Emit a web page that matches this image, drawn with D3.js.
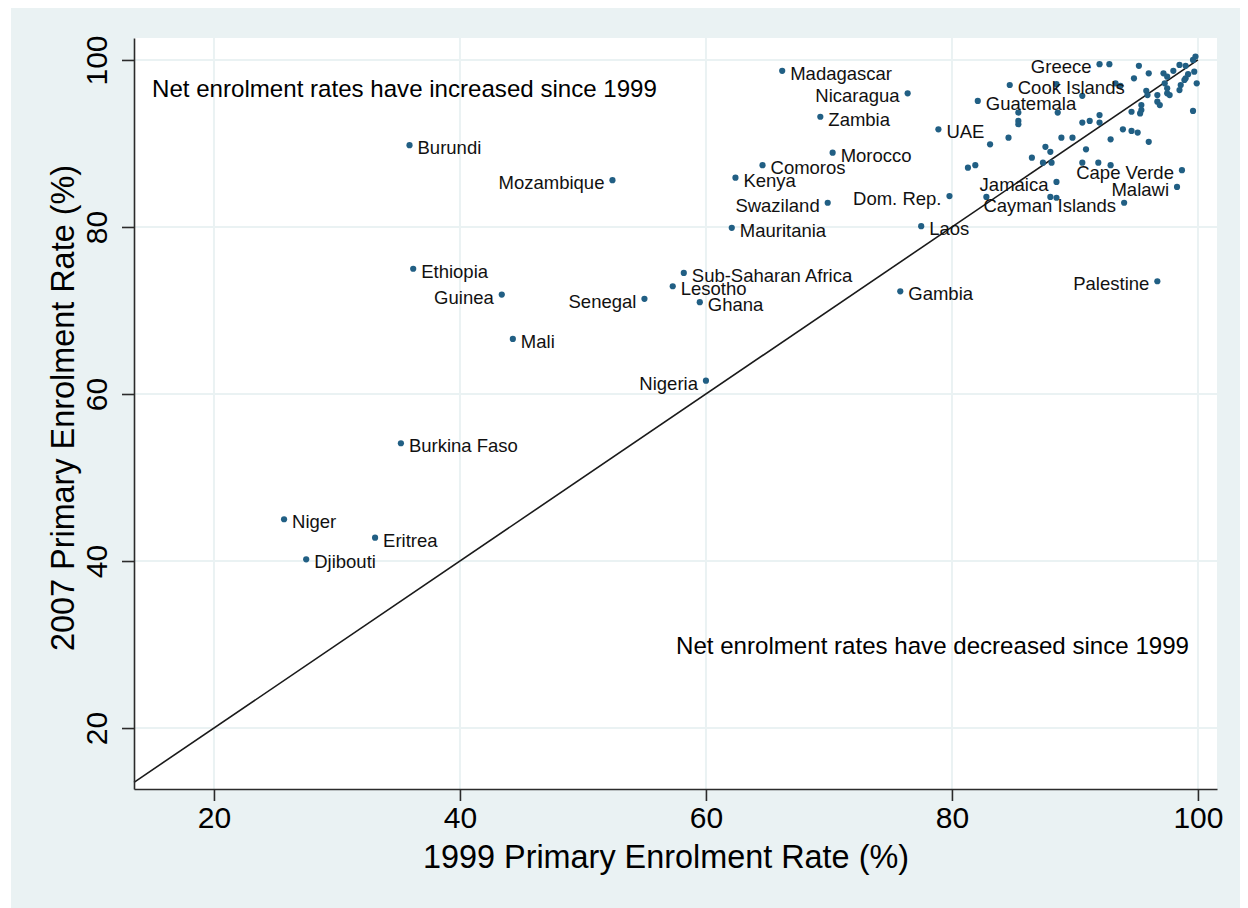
<!DOCTYPE html>
<html><head><meta charset="utf-8">
<script src="https://cdn.jsdelivr.net/npm/d3@7"></script>
<style>
html,body{margin:0;padding:0;background:#fff;}
svg{display:block;font-family:"Liberation Sans",Arial,Helvetica,sans-serif;}
</style></head>
<body>
<svg id="chart" width="1248" height="908"></svg>
<script>
// Labeled countries
const countries = ["Madagascar","Nicaragua","Zambia","UAE","Morocco","Comoros","Kenya","Swaziland","Mauritania","Dom. Rep.","Laos","Burundi","Mozambique","Ethiopia","Guinea","Senegal","Sub-Saharan Africa","Lesotho","Ghana","Mali","Nigeria","Gambia","Burkina Faso","Niger","Eritrea","Djibouti","Palestine","Greece","Cook Islands","Guatemala","Cape Verde","Malawi","Jamaica","Cayman Islands"];
const rate1999 = [66.2,76.4,69.3,78.9,70.3,64.6,62.4,69.9,62.1,79.8,77.5,35.9,52.4,36.2,43.4,55.0,58.2,57.3,59.5,44.3,60.0,75.8,35.2,25.7,33.1,27.5,96.7,92.0,84.7,82.1,98.7,98.3,88.5,94.0];
const rate2007 = [98.7,96.0,93.2,91.7,88.9,87.4,85.9,82.9,79.9,83.7,80.1,89.8,85.6,75.0,71.9,71.4,74.5,72.9,71.0,66.6,61.6,72.3,54.1,45.0,42.8,40.2,73.5,99.5,97.0,95.1,86.8,84.8,85.4,82.9];
// label side: "r" = label right of marker, "l" = left of marker
const labelSide = ["r","l","r","r","r","r","r","l","r","l","r","r","l","r","l","l","r","r","r","r","l","r","r","r","r","r","l","l","r","r","l","l","l","l"];

// Unlabeled countries
const other1999 = [92.8,95.2,96.0,94.8,97.2,97.5,98.0,98.5,99.0,99.6,99.8,99.7,99.9,99.2,98.9,98.6,99.0,98.5,97.3,97.5,97.5,97.7,96.7,96.7,96.9,95.8,95.9,95.4,95.4,95.3,94.6,99.6,93.7,92.0,92.0,91.2,90.6,93.9,94.6,95.1,92.9,96.0,90.9,89.8,88.9,87.6,88.0,86.5,87.4,88.1,84.6,83.1,81.3,81.9,90.6,91.9,92.9,88.0,88.5,82.8,85.4,85.4,85.4,88.6,88.5,90.6,93.3];
const other2007 = [99.5,99.3,98.4,97.8,98.4,98.0,98.7,99.4,99.3,100.0,100.4,98.6,97.2,98.3,97.6,97.0,97.8,96.4,97.2,96.6,96.0,95.8,95.8,95.0,94.6,96.3,95.8,94.6,94.0,93.6,93.8,93.9,96.9,93.4,92.5,92.7,92.5,91.7,91.5,91.3,90.5,90.2,89.3,90.7,90.7,89.6,89.0,88.3,87.7,87.7,90.7,89.9,87.1,87.4,87.7,87.7,87.4,83.6,83.5,83.6,93.7,92.7,92.3,93.7,97.1,95.7,97.2];

const xTicks = [20,40,60,80,100];
const yTicks = [20,40,60,80,100];
const xTitle = "1999 Primary Enrolment Rate (%)";
const yTitle = "2007 Primary Enrolment Rate (%)";
const noteUp = "Net enrolment rates have increased since 1999";
const noteDown = "Net enrolment rates have decreased since 1999";

const svg = d3.select("#chart");
const BG = "#eaf2f3", MARK = "#215f84", AXIS = "#2b2b2b";

svg.append("rect").attr("x",11).attr("y",8).attr("width",1229).attr("height",900).attr("fill",BG);

const x = d3.scaleLinear().domain([13.5,101.55]).range([134,1217]);
const y = d3.scaleLinear().domain([12.7,102.63]).range([789,38]);

svg.append("rect").attr("x",134).attr("y",38).attr("width",1217-134).attr("height",789-38).attr("fill","#fff");

// grid
svg.append("g").selectAll("line").data(xTicks).join("line")
  .attr("x1",d=>x(d)).attr("x2",d=>x(d)).attr("y1",38).attr("y2",789)
  .attr("stroke",BG).attr("stroke-width",2);
svg.append("g").selectAll("line").data(yTicks).join("line")
  .attr("y1",d=>y(d)).attr("y2",d=>y(d)).attr("x1",134).attr("x2",1217)
  .attr("stroke",BG).attr("stroke-width",2);

// diagonal y = x
svg.append("line")
  .attr("x1",x(13.5)).attr("y1",y(13.5)).attr("x2",x(100)).attr("y2",y(100))
  .attr("stroke","#1a1a1a").attr("stroke-width",1.6);

// axes
const xAxis = d3.axisBottom(x).tickValues(xTicks).tickSize(12).tickPadding(6).tickSizeOuter(0);
const gx = svg.append("g").attr("transform","translate(0,789)").call(xAxis);
gx.select(".domain").attr("stroke",AXIS).attr("stroke-width",1.6);
gx.selectAll(".tick line").attr("stroke",AXIS).attr("stroke-width",1.6);
gx.selectAll(".tick text").attr("font-size",30).attr("fill","#000")
  .attr("font-family","Liberation Sans, Arial, sans-serif").attr("dy","0.71em");

const yAxis = d3.axisLeft(y).tickValues(yTicks).tickSize(12).tickSizeOuter(0);
const gy = svg.append("g").attr("transform","translate(134,0)").call(yAxis);
gy.select(".domain").attr("stroke",AXIS).attr("stroke-width",1.6);
gy.selectAll(".tick line").attr("stroke",AXIS).attr("stroke-width",1.6);
gy.selectAll(".tick text").attr("font-size",30).attr("fill","#000")
  .attr("font-family","Liberation Sans, Arial, sans-serif")
  .attr("x",null).attr("dy",null)
  .attr("text-anchor","middle")
  .attr("transform","translate(-27,0) rotate(-90)");

// axis titles
svg.append("text").attr("x",666).attr("y",868).attr("text-anchor","middle")
  .attr("font-size",32.4).attr("fill","#000").text(xTitle);
svg.append("text").attr("transform","translate(74,408) rotate(-90)").attr("text-anchor","middle")
  .attr("font-size",32.4).attr("fill","#000").text(yTitle);

// notes
svg.append("text").attr("x",152).attr("y",97).attr("font-size",24.1).attr("fill","#000").text(noteUp);
svg.append("text").attr("x",1189).attr("y",654).attr("text-anchor","end").attr("font-size",24.1).attr("fill","#000").text(noteDown);

// points
const others = other1999.map((v,i)=>({x:v,y:other2007[i]}));
svg.append("g").selectAll("circle").data(others).join("circle")
  .attr("cx",d=>x(d.x)).attr("cy",d=>y(d.y)).attr("r",3.1).attr("fill",MARK);

const labeled = countries.map((c,i)=>({name:c,x:rate1999[i],y:rate2007[i],side:labelSide[i]}));
svg.append("g").selectAll("circle").data(labeled).join("circle")
  .attr("cx",d=>x(d.x)).attr("cy",d=>y(d.y)).attr("r",3.1).attr("fill",MARK);
svg.append("g").selectAll("text").data(labeled).join("text")
  .attr("x",d=>x(d.x)+(d.side==="r"?8:-8))
  .attr("y",d=>y(d.y)+9)
  .attr("text-anchor",d=>d.side==="r"?"start":"end")
  .attr("font-size",18.5).attr("fill","#111")
  .text(d=>d.name);
</script>
</body></html>
